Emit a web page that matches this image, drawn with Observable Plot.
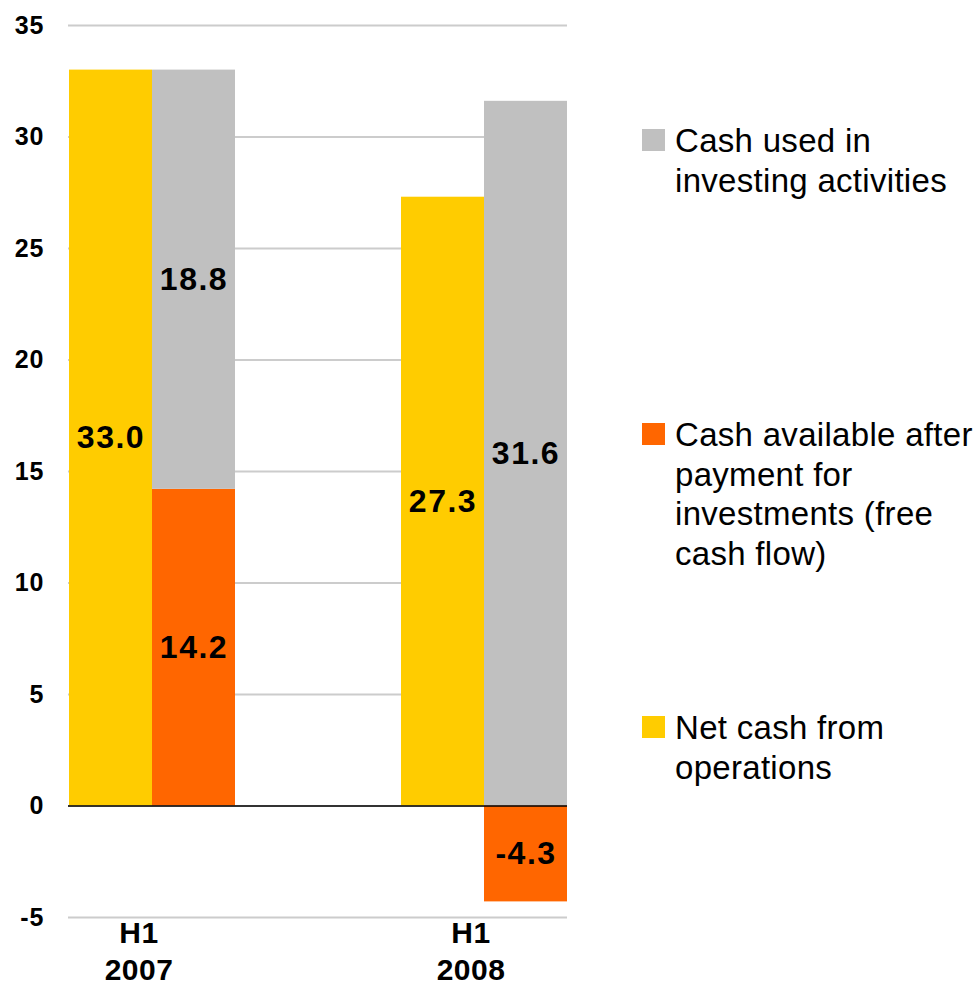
<!DOCTYPE html>
<html>
<head>
<meta charset="utf-8">
<script src="https://cdn.jsdelivr.net/npm/d3@7"></script>
<script src="https://cdn.jsdelivr.net/npm/@observablehq/plot@0.6"></script>
<style>
  html, body { margin: 0; padding: 0; background: #fff; }
  #wrap { position: relative; width: 978px; height: 984px; font-family: "Liberation Sans", Arial, sans-serif; }
  #chart { position: absolute; left: 0; top: 0; }
  .lg { position: absolute; left: 642px; white-space: nowrap; }
  .lg .sw { position: absolute; left: 0; top: 8px; width: 23px; height: 22px; }
  .lg .tx { position: absolute; left: 33px; top: 0; font-size: 33px; line-height: 39.5px; letter-spacing: 0.3px; color: #000; }
  g[aria-label="y-axis tick label"] text { letter-spacing: 1px; }
  g[aria-label="x-axis tick label"] text { letter-spacing: 0.5px; }
  g[aria-label="text"] text { letter-spacing: 1.5px; }
</style>
</head>
<body>
<div id="wrap">
  <div id="chart"></div>
</div>
<script>
const periods = ["H1 2007", "H1 2008"];
const netCash = [33.0, 27.3];
const freeCash = [14.2, -4.3];
const investing = [18.8, 31.6];
const seriesNames = [
  "Cash used in investing activities",
  "Cash available after payment for investments (free cash flow)",
  "Net cash from operations"
];
const legendLines = [
  ["Cash used in", "investing activities"],
  ["Cash available after", "payment for", "investments (free", "cash flow)"],
  ["Net cash from", "operations"]
];
const seriesColors = ["#C0C0C0", "#FF6600", "#FFCC00"];
const yTicks = [-5, 0, 5, 10, 15, 20, 25, 30, 35];

// build table
const rows = [];
periods.forEach((p, i) => {
  rows.push({period: p, slot: p + "|ops", series: seriesNames[2], value: netCash[i]});
  rows.push({period: p, slot: p + "|inv", series: seriesNames[1], value: freeCash[i]});
  rows.push({period: p, slot: p + "|inv", series: seriesNames[0], value: investing[i]});
});
const xDomain = [periods[0] + "|ops", periods[0] + "|inv", "gap1", "gap2", periods[1] + "|ops", periods[1] + "|inv"];
const stackOrder = [seriesNames[2], seriesNames[1], seriesNames[0]];

const chart = Plot.plot({
  width: 580,
  height: 984,
  marginLeft: 68,
  marginRight: 13,
  marginTop: 25,
  marginBottom: 67,
  style: {fontFamily: "'Liberation Sans', Arial, sans-serif", background: "#fff", color: "#000"},
  x: {domain: xDomain, padding: 0},
  y: {domain: [-5, 35]},
  color: {domain: seriesNames, range: seriesColors},
  marks: [
    Plot.gridY(yTicks, {stroke: "#cccccc", strokeWidth: 2, strokeOpacity: 1}),
    Plot.barY(rows, Plot.stackY({x: "slot", y: "value", z: "series", fill: "series", order: stackOrder})),
    Plot.ruleY([0], {stroke: "#000", strokeWidth: 1.5}),
    Plot.text(rows, Plot.stackY({
      x: "slot", y: "value", z: "series", order: stackOrder,
      text: d => d.value.toFixed(1),
      fontSize: 32, fontWeight: "bold", fill: "#000"
    })),
    Plot.axisY(yTicks, {
      tickSize: 0, tickPadding: 24, fontSize: 25, fontWeight: "bold",
      tickFormat: d => String(d), label: null
    }),
    Plot.axisX([xDomain[0], xDomain[4]], {
      tickSize: 0, tickPadding: -1, fontSize: 30, fontWeight: "bold",
      lineHeight: 1.23, dx: 28,
      tickFormat: s => s.split("|")[0].replace(" ", "\n"), label: null
    })
  ]
});
document.getElementById("chart").appendChild(chart);

// legend (HTML, to the right of the plot)
const legendTops = [121, 415, 708];
const wrap = document.getElementById("wrap");
seriesNames.forEach((name, i) => {
  const item = document.createElement("div");
  item.className = "lg";
  item.style.top = legendTops[i] + "px";
  const sw = document.createElement("div");
  sw.className = "sw";
  sw.style.background = seriesColors[i];
  const tx = document.createElement("div");
  tx.className = "tx";
  tx.innerHTML = legendLines[i].join("<br>");
  item.appendChild(sw);
  item.appendChild(tx);
  wrap.appendChild(item);
});
</script>
</body>
</html>
